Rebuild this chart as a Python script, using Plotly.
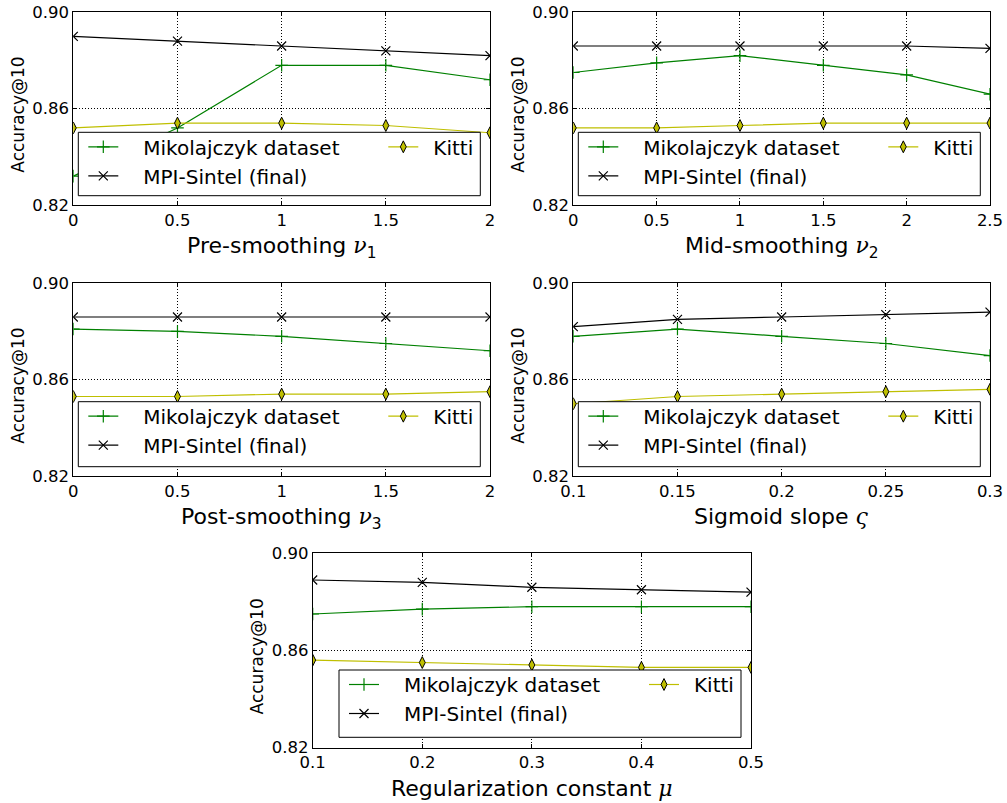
import plotly.graph_objects as go

W, H = 1007, 803

# ---------------- data ----------------
x_pre = [0, 0.5, 1, 1.5, 2]
xt_pre = ["0", "0.5", "1", "1.5", "2"]
miko_pre = [0.832, 0.852, 0.878, 0.878, 0.872]
sintel_pre = [0.890, 0.888, 0.886, 0.884, 0.882]
kitti_pre = [0.852, 0.854, 0.854, 0.853, 0.850]

x_mid = [0, 0.5, 1, 1.5, 2, 2.5]
xt_mid = ["0", "0.5", "1", "1.5", "2", "2.5"]
miko_mid = [0.875, 0.879, 0.882, 0.878, 0.874, 0.866]
sintel_mid = [0.886, 0.886, 0.886, 0.886, 0.886, 0.885]
kitti_mid = [0.852, 0.852, 0.853, 0.854, 0.854, 0.854]

x_post = [0, 0.5, 1, 1.5, 2]
xt_post = ["0", "0.5", "1", "1.5", "2"]
miko_post = [0.881, 0.880, 0.878, 0.875, 0.872]
sintel_post = [0.886, 0.886, 0.886, 0.886, 0.886]
kitti_post = [0.853, 0.853, 0.854, 0.854, 0.855]

x_sig = [0.1, 0.15, 0.2, 0.25, 0.3]
xt_sig = ["0.1", "0.15", "0.2", "0.25", "0.3"]
miko_sig = [0.878, 0.881, 0.878, 0.875, 0.870]
sintel_sig = [0.882, 0.885, 0.886, 0.887, 0.888]
kitti_sig = [0.850, 0.853, 0.854, 0.855, 0.856]

x_reg = [0.1, 0.2, 0.3, 0.4, 0.5]
xt_reg = ["0.1", "0.2", "0.3", "0.4", "0.5"]
miko_reg = [0.875, 0.877, 0.878, 0.878, 0.878]
sintel_reg = [0.889, 0.888, 0.886, 0.885, 0.884]
kitti_reg = [0.856, 0.855, 0.854, 0.853, 0.853]

y_ticks = [0.82, 0.86, 0.90]
y_ticktext = ["0.82", "0.86", "0.90"]

SER_MIKO = "Mikolajczyk dataset"
SER_SINTEL = "MPI-Sintel (final)"
SER_KITTI = "Kitti"
Y_TITLE = "Accuracy@10"

NU = "<span style=\"font-family:'DejaVu Serif'\"><i>ν</i></span>"
titles = [
    "Pre-smoothing " + NU + "<sub>1</sub>",
    "Mid-smoothing " + NU + "<sub>2</sub>",
    "Post-smoothing " + NU + "<sub>3</sub>",
    "Sigmoid slope <span style=\"font-family:'DejaVu Serif'\"><i>ς</i></span>",
    "Regularization constant <span style=\"font-family:'DejaVu Serif'\"><i>μ</i></span>",
]

panels = [
    (x_pre, xt_pre, miko_pre, sintel_pre, kitti_pre),
    (x_mid, xt_mid, miko_mid, sintel_mid, kitti_mid),
    (x_post, xt_post, miko_post, sintel_post, kitti_post),
    (x_sig, xt_sig, miko_sig, sintel_sig, kitti_sig),
    (x_reg, xt_reg, miko_reg, sintel_reg, kitti_reg),
]

# ---------------- layout geometry (pixels) ----------------
boxes = [  # left, top, right, bottom of plot area
    (73.3, 12.3, 490, 205),
    (573.3, 12.3, 990, 205),
    (73.3, 283.3, 490, 476),
    (573.3, 283.3, 990, 476),
    (312.7, 553.3, 751, 747.5),
]
leg_boxes = [
    (78.3, 132.3, 480.3, 195.7),
    (578.3, 132.3, 980.3, 195.7),
    (78.3, 401.7, 480.3, 466.7),
    (578.3, 401.7, 980.3, 466.7),
    (339, 670, 741, 737.3),
]
ytitle_x = [18, 518, 18, 518, 257]

GREEN = "#008000"
YELLOW = "#bfbf00"
BLACK = "#000000"
FONT = "DejaVu Sans"


def px(x):
    return x / W


def py(y):
    return 1 - y / H


fig = go.Figure()
layout = dict(
    template="none",
    width=W, height=H, margin=dict(l=0, r=0, t=0, b=0, pad=0, autoexpand=False),
    paper_bgcolor="white", plot_bgcolor="white",
    font=dict(family=FONT, color=BLACK),
    showlegend=True,
)
shapes = []
annotations = []

for i, (xs, xt, miko, sintel, kitti) in enumerate(panels):
    n = i + 1
    sfx = "" if n == 1 else str(n)
    l, t, r, b = boxes[i]
    legA = "legend" if n == 1 else "legend%d" % (2 * n - 1)
    legB = "legend%d" % (2 * n)
    xa, ya = "x" + sfx, "y" + sfx

    fig.add_trace(go.Scatter(
        x=xs, y=miko, name="\u2003" + SER_MIKO, xaxis=xa, yaxis=ya, legend=legA,
        mode="lines+markers", line=dict(color=GREEN, width=1.2),
        marker=dict(symbol="cross-thin", size=9, color=GREEN,
                    line=dict(color=GREEN, width=1.2))))
    fig.add_trace(go.Scatter(
        x=xs, y=sintel, name="\u2003" + SER_SINTEL, xaxis=xa, yaxis=ya, legend=legA,
        mode="lines+markers", line=dict(color=BLACK, width=1.2),
        marker=dict(symbol="x-thin", size=9, color=BLACK,
                    line=dict(color=BLACK, width=1.2))))
    fig.add_trace(go.Scatter(
        x=xs, y=kitti, name="\u2002" + SER_KITTI, xaxis=xa, yaxis=ya, legend=legB,
        mode="lines+markers", line=dict(color=YELLOW, width=1.2),
        marker=dict(symbol="diamond-tall", size=8.5, color=YELLOW,
                    line=dict(color=BLACK, width=1))))

    common = dict(showline=True, linecolor=BLACK, linewidth=1, mirror="ticks",
                  ticks="inside", ticklen=4, tickcolor=BLACK, tickwidth=1,
                  showgrid=True, gridcolor=BLACK, gridwidth=1, griddash="1px,2px",
                  zeroline=False, automargin=False,
                  tickfont=dict(family=FONT, size=16.5, color=BLACK))
    layout["xaxis" + sfx] = dict(domain=[px(l), px(r)], anchor=ya,
                                 range=[xs[0], xs[-1]], tickmode="array",
                                 tickvals=xs, ticktext=xt, **common)
    layout["yaxis" + sfx] = dict(domain=[py(b), py(t)], anchor=xa,
                                 range=[0.82, 0.90], tickmode="array",
                                 tickvals=y_ticks, ticktext=y_ticktext, **common)

    # legend frame
    ll, lt, lr, lb = leg_boxes[i]
    shapes.append(dict(type="rect", xref="paper", yref="paper",
                       x0=px(ll), x1=px(lr), y0=py(lb), y1=py(lt),
                       line=dict(color=BLACK, width=1), fillcolor="white",
                       layer="above"))
    legcommon = dict(bgcolor="rgba(0,0,0,0)", borderwidth=0, xanchor="left",
                     yanchor="top", orientation="v", tracegroupgap=0,
                     font=dict(family=FONT, size=20, color=BLACK),
                     itemclick=False, itemdoubleclick=False)
    layout[legA] = dict(x=px(ll + 5), y=py(lt - 5), **legcommon)
    layout[legB] = dict(x=px(ll + 305), y=py(lt - 5), **legcommon)

    # axis titles
    annotations.append(dict(text=titles[i], xref="paper", yref="paper",
                            x=px((l + r) / 2), y=py(b + 26), xanchor="center",
                            yanchor="top", showarrow=False,
                            font=dict(family=FONT, size=22, color=BLACK)))
    annotations.append(dict(text=Y_TITLE, xref="paper", yref="paper",
                            x=px(ytitle_x[i]), y=py((t + b) / 2 + 6),
                            xanchor="center", yanchor="middle", textangle=-90,
                            showarrow=False,
                            font=dict(family=FONT, size=17, color=BLACK)))

layout["shapes"] = shapes
layout["annotations"] = annotations
fig.update_layout(**layout)
fig.write_html("out.html")
